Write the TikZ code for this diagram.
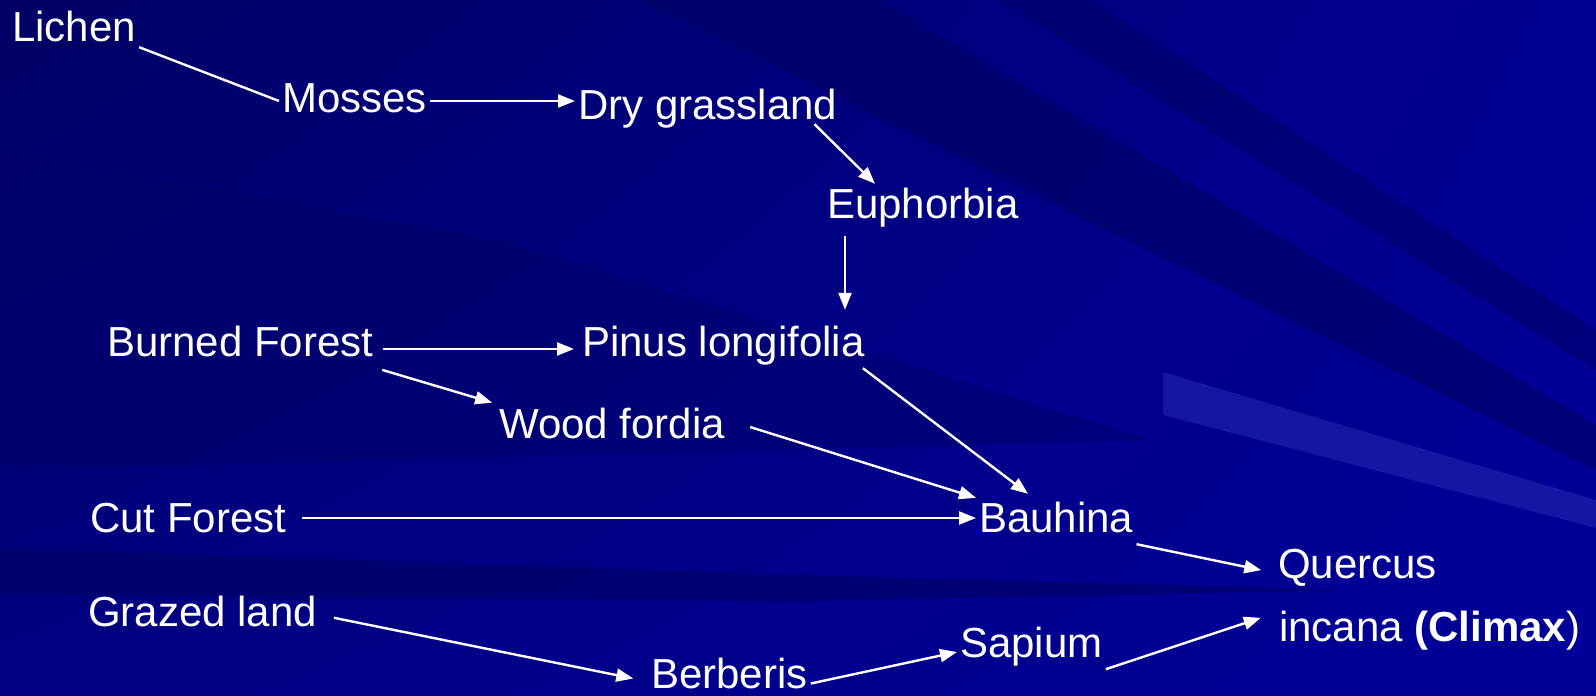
\documentclass[tikz,border=0pt]{standalone}
\usepackage{fontspec}
\setmainfont{Liberation Sans}
\usetikzlibrary{arrows.meta,shadings}

\definecolor{slideblue}{RGB}{0,0,153}
\definecolor{slidedark}{RGB}{0,0,100}
\definecolor{slidelight}{RGB}{22,22,165}

\tikzset{
  plant/.style={anchor=base west, text=white, inner sep=3pt,
    text height=31pt, text depth=9pt, font=\fontsize{42}{50}\selectfont},
  succ/.style={draw=white, line width=2.4pt, -{Triangle[length=17pt,width=13pt]}},
  plainlink/.style={draw=white, line width=2.4pt},
}

\begin{document}
\begin{tikzpicture}[x=1pt, y=-1pt]

\useasboundingbox (0,0) rectangle (1596,696);

% Background
\shade[upper left=slidedark, upper right=slideblue!95!black,
  lower left=slideblue!85!black, lower right=slideblue] (0,0) rectangle (1596,696);
\fill[slidedark, opacity=0.4] (0,150) -- (500,240) -- (1150,440) -- (0,470) -- cycle;
\fill[slidedark, opacity=0.6] (640,0) -- (880,0) -- (1596,425) -- (1596,470) -- cycle;
\fill[slidedark, opacity=0.5] (1000,0) -- (1090,0) -- (1596,330) -- (1596,370) -- cycle;
\fill[slidelight] (1163,372) -- (1596,500) -- (1596,528) -- (1163,415) -- cycle;
\fill[slidedark, opacity=0.6] (0,548) -- (800,575) -- (1350,590) -- (800,601) -- (0,595) -- cycle;

% Stages
\node[plant] (lichen) at (9,41) {Lichen};
\node[plant] (mosses) at (279,112) {Mosses};
\node[plant] (dry) at (575,119) {Dry grassland};
\node[plant] (euph) at (824,218) {Euphorbia};
\node[plant] (burned) at (104,356) {Burned Forest};
\node[plant] (pinus) at (579,356) {Pinus longifolia};
\node[plant] (wood) at (496,438) {Wood fordia};
\node[plant] (cut) at (87,532) {Cut Forest};
\node[plant] (bauhina) at (976,532) {Bauhina};
\node[plant] (quercus) at (1275,578) {Quercus};
\node[plant] (incana) at (1276,641) {incana \textbf{(Climax})};
\node[plant] (grazed) at (85,626) {Grazed land};
\node[plant] (sapium) at (957,657) {Sapium};
\node[plant, text depth=0pt] (berberis) at (648,688) {Berberis};

% Successions
\draw[plainlink] ([yshift=6pt]lichen.south east) -- (mosses.west);
\draw[succ] (mosses.east) -- (mosses.east -| dry.west);
\draw[succ] ([xshift=-26pt,yshift=7pt]dry.south east) -- ([xshift=51pt]euph.north west);
\draw[succ, shorten <=6pt, shorten >=12pt] ([xshift=21pt]euph.south west) -- ([xshift=21pt]euph.south west |- pinus.north);
\draw[succ, shorten <=6pt, shorten >=5pt] ([yshift=-4pt]burned.east) -- ([yshift=-4pt]burned.east -| pinus.west);
\draw[succ, shorten <=6pt, shorten >=4pt] (burned.south east) -- (wood.north west);
\draw[succ] ([xshift=-5pt]pinus.south east) -- ([xshift=52pt,yshift=4pt]bauhina.north west);
\draw[succ] ([xshift=22pt]wood.east) -- (bauhina.north west);
\draw[succ, shorten <=13pt] ([yshift=3pt]cut.east) -- ([yshift=3pt]cut.east -| bauhina.west);
\draw[succ, shorten >=14pt] (bauhina.south east) -- ([yshift=-6pt]quercus.west);
\draw[succ, shorten <=14pt, shorten >=15pt] (grazed.east) -- ([yshift=-9pt]berberis.west);
\draw[succ] ([yshift=-11pt]berberis.east) -- ([yshift=-6pt]sapium.west);
\draw[succ, shorten >=16pt] (sapium.south east) -- ([yshift=-6pt]incana.north west);

\end{tikzpicture}
\end{document}
